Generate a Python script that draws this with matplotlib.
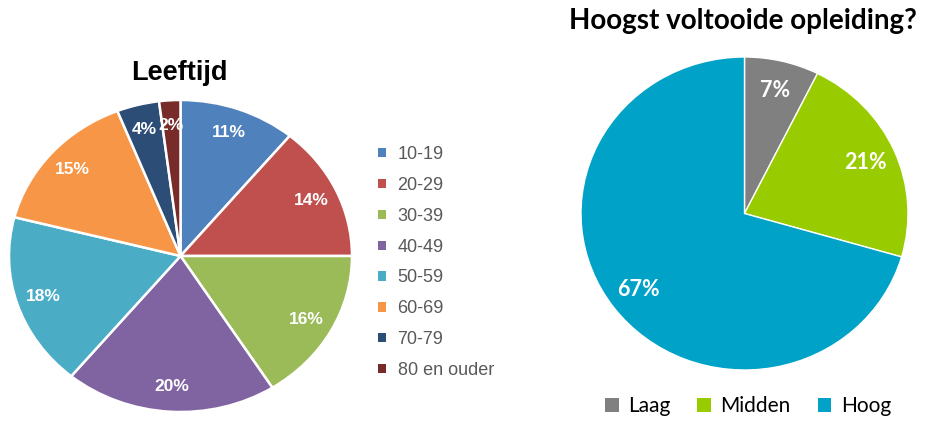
import matplotlib.pyplot as plt
from matplotlib.patches import Patch

# Leeftijd
age_labels = ['10-19', '20-29', '30-39', '40-49', '50-59', '60-69', '70-79',
              '80 en ouder']
age_values = [11, 14, 16, 20, 18, 15, 4, 2]
age_colors = ['#4F81BD', '#C0504D', '#9BBB59', '#8064A2', '#4BACC6',
              '#F79646', '#2C4D75', '#772C2A']

# Hoogst voltooide opleiding
edu_labels = ['Laag', 'Midden', 'Hoog']
edu_values = [7, 21, 67]
edu_colors = ['#808080', '#99CC00', '#00A2C7']

W, H = 925, 421
fig = plt.figure(figsize=(W / 100, H / 100), dpi=100)


def px_axes(cx, cy, rx, ry):
    """Axes in pixel coords (top-left origin), centred on the pie."""
    return fig.add_axes([(cx - rx) / W, (H - cy - ry) / H, 2 * rx / W, 2 * ry / H])


# left pie
ax1 = px_axes(180.5, 256, 171.5, 156)
tot1 = sum(age_values)
w1, t1, a1 = ax1.pie(age_values, colors=age_colors, startangle=90,
                     counterclock=False, pctdistance=0.84,
                     autopct=lambda p: '%.0f%%' % (p * tot1 / 100),
                     wedgeprops=dict(edgecolor='white', linewidth=1.8),
                     textprops=dict(color='white', fontsize=12.5,
                                    fontweight='bold',
                                    family='Liberation Sans'))
ax1.set_aspect('auto')
ax1.set_xlim(-1, 1)
ax1.set_ylim(-1, 1)
fig.text(179 / W, 1 - 73 / H, 'Leeftijd', ha='center', va='center',
         fontsize=19.5, fontweight='bold', family='Liberation Sans')

handles = [Patch(facecolor=c, edgecolor='none') for c in age_colors]
leg1 = fig.legend(handles, age_labels, loc='upper left',
                  bbox_to_anchor=(362 / W, 1 - 130 / H), frameon=False,
                  handlelength=0.42, handleheight=0.42, handletextpad=0.65,
                  labelspacing=0.765,
                  prop=dict(family='Liberation Sans', size=13))
for t in leg1.get_texts():
    t.set_color('#595959')

# right pie
ax2 = px_axes(744.5, 213.5, 163.5, 156.5)
tot2 = sum(edu_values)
w2, t2, a2 = ax2.pie(edu_values, colors=edu_colors, startangle=90,
                     counterclock=False, pctdistance=0.81,
                     autopct=lambda p: '%.0f%%' % (p * tot2 / 100),
                     wedgeprops=dict(edgecolor='white', linewidth=1),
                     textprops=dict(color='white', fontsize=15.5,
                                    fontweight='bold', family='Lato'))
ax2.set_aspect('auto')
ax2.set_xlim(-1, 1)
ax2.set_ylim(-1, 1)
fig.text(743 / W, 1 - 21 / H, 'Hoogst voltooide opleiding?', ha='center',
         va='center', fontsize=20, fontweight='bold', family='Lato')

handles2 = [Patch(facecolor=c, edgecolor='none') for c in edu_colors]
fig.legend(handles2, edu_labels, loc='center', ncol=3,
           bbox_to_anchor=(748 / W, 1 - 406 / H), frameon=False,
           handlelength=0.65, handleheight=0.65, handletextpad=0.45,
           columnspacing=1.3, prop=dict(family='Lato', size=15))

fig.savefig('out.png', dpi=100)
